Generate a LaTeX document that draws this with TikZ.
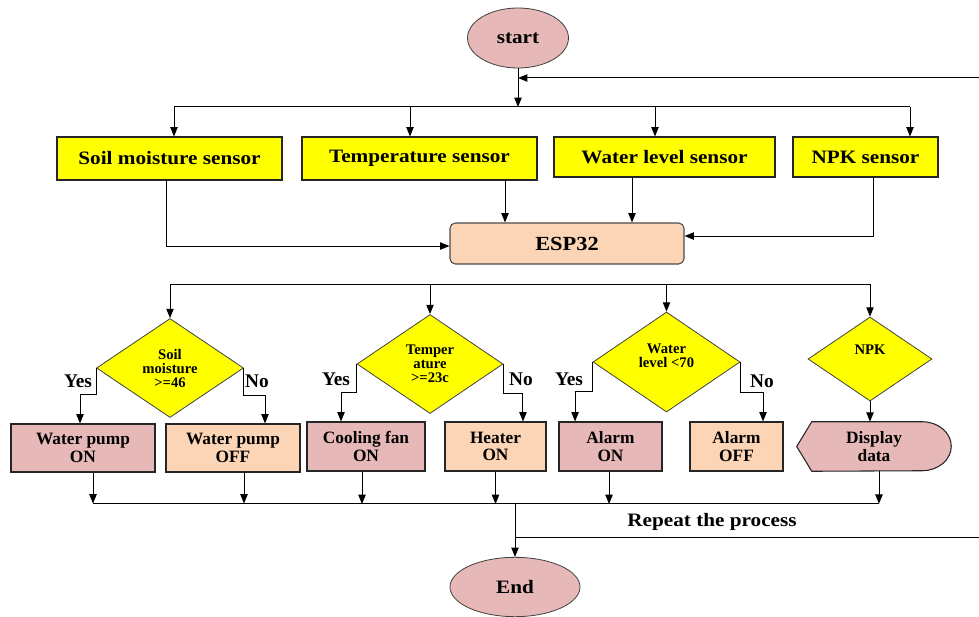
\documentclass[tikz,border=0pt]{standalone}
\usepackage{fontspec}
\setmainfont{Liberation Serif}
\newfontfamily\widefont[FakeStretch=1.12]{Liberation Serif}
\usetikzlibrary{shapes.geometric,arrows.meta,calc,backgrounds}
\definecolor{pinkc}{HTML}{E6B8B7}
\definecolor{peachc}{HTML}{FBD5B5}
\definecolor{yel}{HTML}{FFFF00}
\begin{document}
\begin{tikzpicture}[x=0.75pt,y=-0.75pt,
  arr/.style={-{Triangle[length=7pt,width=5.5pt]}, line width=0.75pt},
  ln/.style={line width=0.75pt},
  term/.style={ellipse, draw=black!75, line width=0.6pt, fill=pinkc, inner sep=0pt, font=\widefont\bfseries\fontsize{14.2}{16}\selectfont},
  sensor/.style={rectangle, draw=black!85, line width=0.8pt, fill=yel, inner sep=0pt, font=\widefont\bfseries\fontsize{14.2}{16}\selectfont},
  cpu/.style={rectangle, rounded corners=4pt, draw=black!70, line width=0.8pt, fill=peachc, inner sep=0pt, font=\widefont\bfseries\fontsize{15}{16}\selectfont},
  dec/.style={diamond, draw=black!75, line width=0.6pt, fill=yel, inner sep=0pt, align=center, font=\bfseries\fontsize{11}{10.5}\selectfont},
  onbox/.style={rectangle, draw=black!85, line width=0.8pt, fill=pinkc, inner sep=0pt, align=center, font=\bfseries\fontsize{13}{13}\selectfont},
  offbox/.style={onbox, fill=peachc},
  lbl/.style={font=\bfseries\fontsize{14.5}{15}\selectfont, inner sep=0pt}
]
\useasboundingbox (0,0) rectangle (979,617);

% start and return
\node[term, minimum width=75.75pt, minimum height=45pt] (start) at (518,38) {start};
\coordinate (j1) at (518,107);
\coordinate (rr) at (979,78);
\coordinate (rj) at (518,78);
\draw[arr] (start) -- (j1);
\draw[arr] (rr) -- (rj);

% sensors
\node[sensor, minimum width=168.75pt, minimum height=32.25pt] (s1) at (169.5,158.5) {Soil moisture sensor};
\node[sensor, minimum width=176.25pt, minimum height=32.25pt] (s2) at (419.5,158.5) {Temperature sensor};
\node[sensor, minimum width=165.75pt, minimum height=30pt] (s3) at (664.5,157) {Water level sensor};
\node[sensor, minimum width=108.75pt, minimum height=30pt] (s4) at (865.5,157) {NPK sensor};

\coordinate (t1) at (174,107);
\coordinate (t2) at (410,107);
\coordinate (t3) at (655,107);
\coordinate (t4) at (910,107);
\draw[ln] (t1) -- (t4);
\draw[arr] (t1) -- (t1 |- s1.north);
\draw[arr] (t2) -- (t2 |- s2.north);
\draw[arr] (t3) -- (t3 |- s3.north);
\draw[arr] (t4) -- (t4 |- s4.north);

% ESP32
\node[cpu, minimum width=175.5pt, minimum height=30.75pt] (esp) at (567,243.5) {ESP32};
\coordinate (e1) at (166,180);
\coordinate (e2) at (505,180);
\coordinate (e3) at (632,177);
\coordinate (e4) at (873,177);
\draw[arr] (e1) |- ([yshift=-1.9pt]esp.west);
\draw[arr] (e2) -- (e2 |- esp.north);
\draw[arr] (e3) -- (e3 |- esp.north);
\draw[arr] (e4) |- ([yshift=5.6pt]esp.east);

% decisions
\node[dec, minimum width=110.25pt, minimum height=74.25pt] (d1) at (170,368) {Soil\\moisture\\>=46};
\node[dec, minimum width=109.5pt, minimum height=74.25pt] (d2) at (430,364) {Temper\\ature\\>=23c};
\node[dec, minimum width=110.25pt, minimum height=75pt] (d3) at (666.5,362) {Water\\level <70\\[-1.5pt]};
\node[dec, minimum width=93pt, minimum height=63pt] (d4) at (870,359) {NPK\\[3pt]};

\coordinate (u1) at (170,284);
\coordinate (u4) at (870,284);
\draw[ln] (u1) -- (u4);
\draw[arr] (u1) -- (d1.north);
\draw[arr] (d2.north |- u1) -- (d2.north);
\draw[arr] (d3.north |- u1) -- (d3.north);
\draw[arr] (u4) -- (d4.north);

% actuators
\node[onbox, minimum width=108pt, minimum height=36pt] (a1) at (83,448) {Water pump\\ON};
\node[offbox, minimum width=100.5pt, minimum height=36pt] (a2) at (233,448) {Water pump\\OFF};
\node[onbox, minimum width=88.5pt, minimum height=36.75pt] (a3) at (366,446.5) {Cooling fan\\ON};
\node[offbox, minimum width=75.75pt, minimum height=36.75pt] (a4) at (495.5,446.5) {Heater\\ON};
\node[onbox, minimum width=77.25pt, minimum height=36.75pt] (a5) at (610.5,446.5) {Alarm\\ON};
\node[offbox, minimum width=69.75pt, minimum height=36.75pt] (a6) at (736.5,446.5) {Alarm\\OFF};
\node[inner sep=0pt, minimum width=115.5pt, minimum height=36.75pt, align=center, font=\bfseries\fontsize{13}{13}\selectfont] (disp) at (874,446.5) {Display\\data};
\begin{scope}[on background layer]
\draw[draw=black!85, line width=0.8pt, fill=pinkc] (disp.west) -- ($(disp.north west)+(15,0)$) -- ($(disp.north east)+(-29,0)$) arc[start angle=90, end angle=-90, x radius=21.75pt, y radius=18.375pt] -- ($(disp.south west)+(15,0)$) -- cycle;
\end{scope}

% yes / no branches
\draw[arr] (d1.west) -- ++(0,26) -| ([xshift=-2.25pt]a1.north);
\draw[arr] (d1.east) -- ++(0,27) -| ([xshift=24pt]a2.north);
\draw[arr] (d2.west) -- ++(0,28) -| ([xshift=-18.75pt]a3.north);
\draw[arr] (d2.east) -- ++(0,29) -| ([xshift=20.6pt]a4.north);
\draw[arr] (d3.west) -- ++(0,29) -| ([xshift=-26.6pt]a5.north);
\draw[arr] (d3.east) -- ++(0,30) -| ([xshift=19.9pt]a6.north);
\draw[arr] (d4.south) -- (d4.south |- disp.north);

\node[lbl] (y1) at (78,381) {Yes};
\node[lbl] (n1) at (257,381) {No};
\node[lbl] (y2) at (336,379) {Yes};
\node[lbl] (n2) at (521,379) {No};
\node[lbl] (y3) at (569,379) {Yes};
\node[lbl] (n3) at (762,381) {No};

% collect
\coordinate (c1) at (93,503);
\coordinate (c6) at (879,503);
\draw[ln] (c1) -- (c6);
\draw[arr] ([xshift=7.5pt]a1.south) -- ++(0,31);
\draw[arr] ([xshift=8.25pt]a2.south) -- ++(0,31);
\draw[arr] ([xshift=-3pt]a3.south) -- ++(0,32.5);
\draw[arr] (a4.south) -- ++(0,32.5);
\draw[arr] ([xshift=-1.1pt]a5.south) -- ++(0,32.5);
\draw[arr] ([xshift=3.75pt]disp.south) -- ++(0,32.5);

% end and repeat
\node[term, minimum width=97.5pt, minimum height=44.5pt] (end) at (515,587) {End};
\coordinate (m1) at (515,503);
\coordinate (m2) at (515,537);
\coordinate (m3) at (979,537);
\draw[arr] (m1) -- (end.north);
\draw[ln] (m2) -- (m3);
\node[font=\widefont\bfseries\fontsize{14.2}{16}\selectfont, inner sep=0pt] (rep) at (712,522) {Repeat the process};
\end{tikzpicture}
\end{document}
